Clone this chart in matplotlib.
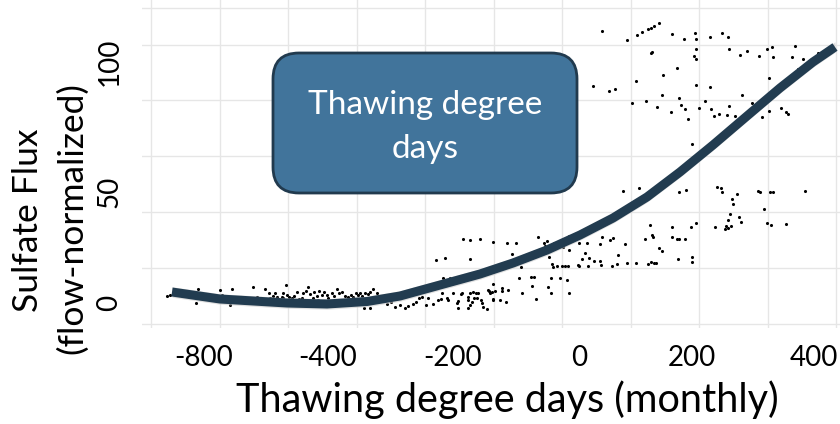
import matplotlib
matplotlib.use('Agg')
import matplotlib.pyplot as plt
import numpy as np
from matplotlib.patches import FancyBboxPatch
from matplotlib.transforms import IdentityTransform

plt.rcParams['font.family'] = ['Lato', 'DejaVu Sans']

# scatter: thawing degree days vs sulfate flux
tdd = [
    -824, -818, -762, -766, -718, -714, -694, -698, -676, -668, -652, -644, -636, -628,
    -620, -618, -608, -612, -604, -592, -586, -594, -592, -584, -580, -574, -570, -564,
    -560, -554, -552, -546, -542, -538, -532, -530, -524, -522, -520, -514, -510, -504,
    -502, -494, -490, -484, -480, -474, -468, -462, -456, -452, -446, -442, -438, -434,
    -428, -422, -418, -412, -404, -430, -418, -384, -376, -368, -358, -348, -342, -332,
    -326, -320, -314, -306, -292, -282, -274, -264, -262, -252, -244, -234, -242, -222,
    -218, -212, -218, -214, -204, -194, -192, -182, -272, -258, -286, -268, -218, -232,
    -218, -198, -228, -262, -302, -276, -242, -236, -222, -222, -210, -206, -202, -196,
    -184, -180, -174, -172, -172, -158, -154, -154, -146, -142, -150, -120, -114, -116,
    -96, -90, -94, -86, -62, -56, -56, -38, -24, -20, -60, -54, -52, -44, -34, -28, -22,
    -2, 0, 18, 12, 6, 20, -172, -144, -126, -134, -82, -70, -68, -64, -50, -32, -20, -20,
    0, 16, 42, 46, 62, 68, 92, 30, 42, 44, 66, 76, 78, 96, 114, 138, 144, 150, 154, 132,
    146, 148, 186, 196, 200, 212, 160, 166, 198, 226, 226, 142, 186, 224, 234, 272, 292,
    294, 298, 304, 298, 302, 320, 324, 376, 384, 414, 370, 308, 306, 316, 276, 284, 286,
    358, 362, 382, 388, 452, 88, 120, 200, 214, 226, -168, -178, -172,
    46, 96, 116, 126, 138, 144, 150, 160, 186, 210, 232, 234, 262, 286, 298, 144, 146,
    234, 230, 234, 300, 322, 336, 360, 376, 386, 388, 432, 426, 448, 478, 478, 438, 380,
    196, 168, 114, 28, 60, 72, 106, 134, 166, 156, 184, 200, 204, 212, 218, 234, 262,
    240, 252, 264, 270, 280, 296, 300, 312, 326, 346, 376, 366, 380, 404, 414, 418,
]
flux = [
    2.8, 3.2, 5.6, 0.0, 5.2, 3.2, 5.6, -0.8, 2.4, 2.0, 6.4, 2.4, 2.0, 5.6,
    4.0, 2.0, 4.0, 2.8, 2.4, 4.0, 7.2, 2.4, 2.0, 3.2, 2.4, 2.0, 2.8, 4.4,
    1.6, 2.0, 4.0, 4.8, 6.4, 3.6, 2.0, 4.4, 2.8, 1.2, 4.8, 3.2, 4.4, 3.2,
    2.0, 4.0, 2.8, 5.6, 4.0, 4.4, 2.8, 2.4, 3.2, 2.4, 4.0, 3.2, 4.0, 2.8,
    4.0, 3.6, 4.4, 5.6, 4.0, -2.0, -2.0, -0.4, 0.4, -1.6, -0.8, -2.0, -1.2, -0.4,
    0.4, 2.0, 2.4, -0.8, -0.4, 1.2, 4.0, 2.0, 1.2, 4.0, 0.0, 4.0, -2.0, 2.4,
    4.0, 4.4, -0.8, 0.4, 2.0, 0.0, -1.6, 5.2, 10.0, 10.0, 17.2, 18.0, 17.6, 25.6,
    25.2, 25.6, 10.8, 8.4, 2.0, 1.6, 0.8, 3.6, 1.2, -2.0, 2.0, 4.0, 4.0, 1.2,
    -2.4, 4.8, 4.4, 7.6, 1.2, 1.2, 6.0, 4.8, 0.4, 5.2, 16.0, 10.0, 4.0, 14.4,
    10.4, 10.4, 6.8, 1.6, 6.4, 10.0, 4.0, 10.0, 9.2, 4.0, 18.4, 15.6, 14.4, 14.8, 14.8, 14.8, 14.8,
    15.2, 14.8, 14.8, 20.0, 17.6, 18.0, 24.4, 24.0, 24.0, 19.6, 26.4, 24.0, 22.8, 24.8, 24.0, 22.4, 26.8, 21.2,
    24.0, 24.0, 23.6, 26.4, 25.2, 26.0, 23.6, 16.8, 16.8, 15.2, 14.8, 15.6, 19.2, 16.0, 16.0, 15.6, 16.4, 16.0, 16.0, 25.6,
    27.2, 26.4, 26.4, 25.6, 25.6, 25.6, 22.0, 20.8, 17.6, 18.4, 16.4, 31.2, 30.4, 30.4, 32.0, 30.4, 29.6,
    30.8, 30.0, 30.8, 33.2, 35.6, 34.4, 32.4, 32.0, 31.2, 31.6, 37.6, 39.6, 41.6, 43.6, 46.4, 46.0, 44.4,
    44.8, 44.4, 44.4, 44.4, 44.8, 44.8, 46.0, 44.4, 45.2, 63.6, 4.8, 4.0, 1.6,
    108.8, 105.2, 107.2, 108.4, 109.6, 110.0, 110.8, 112.0, 107.6, 105.6, 108.0, 105.6, 106.4, 108.0, 106.4, 100.0, 100.4,
    101.6, 98.8, 97.6, 101.6, 99.2, 100.8, 98.8, 101.6, 102.4, 98.4, 102.8, 98.4, 97.6, 100.0, 98.4, 93.6, 90.0,
    94.0, 91.2, 88.8, 86.8, 84.8, 85.6, 80.0, 80.8, 83.2, 78.4, 76.4, 82.0, 79.2, 77.6, 73.6, 87.2, 86.4,
    78.0, 80.8, 77.6, 74.8, 75.6, 75.2, 78.8, 74.8, 83.2, 80.0, 82.8, 74.4, 76.8, 78.0, 76.4, 75.6,
]

# fitted smooth
fit_x = [-814, -718, -584, -504, -424, -358, -278, -198, -132, -64, 2, 68, 136, 202, 268, 336, 402, 468, 512]
fit_y = [4.4, 1.6, 0.0, -0.4, 0.6, 2.8, 7.2, 11.6, 16.0, 21.2, 27.2, 34.0, 42.4, 52.4, 63.2, 74.8, 86.0, 96.4, 102.4]

# axis text (labels do not sit on the gridlines in the original)
xtick_pos = [-750, -502, -252, 0, 226, 470]
xtick_lab = ['-800', '-400', '-200', '0', '200', '400']
ytick_pos = [0, 44.4, 96.4]
ytick_lab = ['0', '50', '100']

fig = plt.figure(figsize=(8.4, 4.24), dpi=100)
ax = fig.add_axes([142/840, 1-328/424, 698/840, 328/424])
ax.set_xlim(-874, 522)
ax.set_ylim(-10, 121.2)

# gridlines
ax.set_xticks(np.arange(-856, 515, 137), minor=True)
ax.set_yticks(list(np.arange(-8.2, 104, 22.3)) + [118], minor=True)
ax.grid(which='minor', color='#e6e6e6', linewidth=1.0)
ax.grid(which='major', visible=False)
ax.set_axisbelow(True)
for s in ax.spines.values():
    s.set_visible(False)

ax.set_xticks(xtick_pos)
ax.set_xticklabels(xtick_lab, fontsize=20)
ax.set_yticks(ytick_pos)
ax.set_yticklabels(ytick_lab, fontsize=20, rotation=90, va='center')
ax.tick_params(which='both', length=0)
ax.tick_params(axis='x', pad=12)
ax.tick_params(axis='y', pad=14)

ax.scatter(tdd, flux, s=5, color='black', linewidths=0, zorder=3)

fy = np.array(fit_y)
ax.fill_between(fit_x, fy-2.1, fy+2.1, color='#cccccc', alpha=0.6, linewidth=0, zorder=4)
ax.plot(fit_x, fit_y, color='#223c50', linewidth=6.5, solid_capstyle='butt',
        solid_joinstyle='round', zorder=5)

# annotation box
box = FancyBboxPatch((273, 424-193), 304, 140, boxstyle='round,pad=0,rounding_size=26',
                     transform=IdentityTransform(), facecolor='#41749b',
                     edgecolor='#213a4e', linewidth=2.0, zorder=10)
fig.patches.append(box)
fig.text(425/840, 1-127/424, 'Thawing degree\ndays', color='white', fontsize=24,
         ha='center', va='center', linespacing=1.55, zorder=11)

fig.text(507/840, 1-400/424, 'Thawing degree days (monthly)', fontsize=28.5,
         ha='center', va='center')
fig.text(28/840, 1-220/424, 'Sulfate Flux', fontsize=25.5,
         rotation=90, ha='center', va='center')
fig.text(72/840, 1-218/424, '(flow-normalized)', fontsize=25.5,
         rotation=90, ha='center', va='center')

fig.savefig('out.png', dpi=100)
